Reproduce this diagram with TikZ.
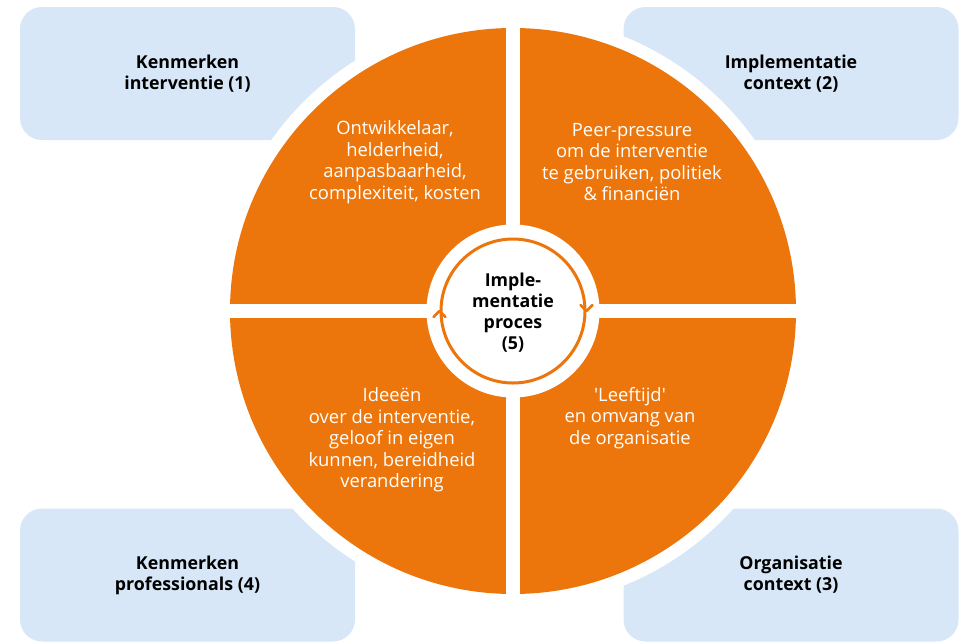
\documentclass[tikz,border=0pt]{standalone}
\usepackage{fontspec}
\setmainfont{Open Sans}
\definecolor{oranje}{RGB}{236,118,12}
\definecolor{lichtblauw}{RGB}{215,231,247}

\begin{document}
\begin{tikzpicture}
  [x=1pt,y=-1pt,
   vak/.style={rectangle,rounded corners=22pt,fill=lichtblauw,minimum width=335pt,minimum height=133pt,
     align=center,font=\fontsize{17.8}{21}\selectfont\bfseries},
   kwart/.style={color=white,align=center,font=\fontsize{18.4}{21.5}\selectfont},
   pijl/.style={oranje,line width=2.5pt,line cap=round,line join=round}]
  \useasboundingbox (0,0) rectangle (964,641);

  \node[vak] (k1) at (187.5,73.5) {Kenmerken\\interventie (1)};
  \node[vak] (k2) at (791,73.5) {Implementatie\\context (2)};
  \node[vak] (k3) at (791,575) {Organisatie\\context (3)};
  \node[vak] (k4) at (187.5,575) {Kenmerken\\professionals (4)};

  \fill[white] (513,311) circle (296pt);
  \fill[oranje] (513,311) circle (283pt);
  \draw[white,line width=14pt] (513,20) -- (513,602);
  \draw[white,line width=14pt] (222,311) -- (804,311);

  \node[circle,fill=white,inner sep=0pt,minimum size=173pt] (midden) at (513,311) {};
  \node[circle,draw=oranje,line width=3pt,inner sep=0pt,minimum size=144pt] (ring) at (513,311) {};
  \draw[pijl] ([shift={(-6,6)}]ring.west) -- (ring.west) -- ([shift={(6,6)}]ring.west);
  \draw[pijl] ([shift={(-6,-6)}]ring.east) -- (ring.east) -- ([shift={(6,-6)}]ring.east);
  \node[align=center,font=\fontsize{17.8}{21}\selectfont\bfseries] (proces) at (513,313)
    {Imple-\\mentatie\\proces\\(5)};

  \node[kwart] (q1) at (395,162) {Ontwikkelaar,\\helderheid,\\aanpasbaarheid,\\complexiteit, kosten};
  \node[kwart] (q2) at (632,162) {Peer-pressure\\om de interventie\\te gebruiken, politiek\\\& financiën};
  \node[kwart] (q3) at (630,418) {\textquotesingle Leeftijd\textquotesingle\\en omvang van\\de organisatie};
  \node[kwart] (q4) at (392,440) {Ideeën\\over de interventie,\\geloof in eigen\\kunnen, bereidheid\\verandering};
\end{tikzpicture}
\end{document}
